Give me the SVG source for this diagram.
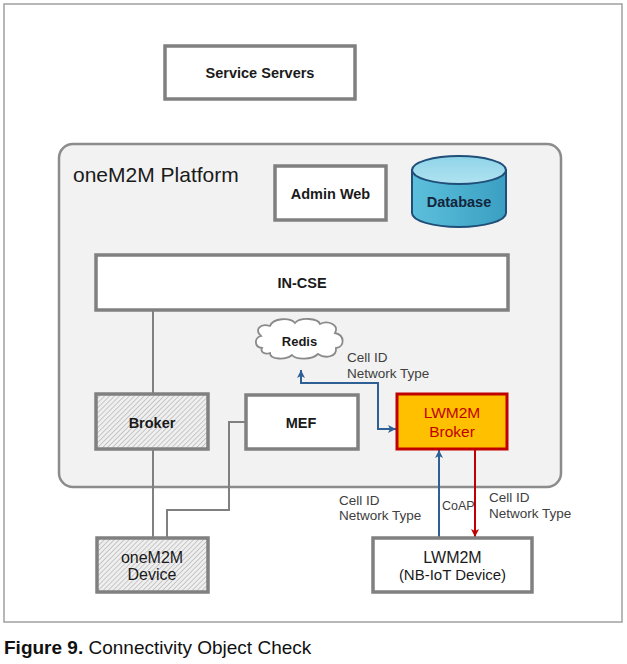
<svg xmlns="http://www.w3.org/2000/svg" width="627" height="664" viewBox="0 0 627 664">
<style>
.box{fill:#ffffff;stroke:#808080;stroke-width:3.5}
.hbox{fill:url(#hatch);stroke:#808080;stroke-width:3.5}
.lbl{font-family:"Liberation Sans",Arial,sans-serif;font-weight:bold;font-size:14.5px;fill:#1a1a1a;text-anchor:middle}
.lbl2{font-family:"Liberation Sans",Arial,sans-serif;font-size:16px;fill:#1a1a1a;text-anchor:middle}
.note{font-family:"Liberation Sans",Arial,sans-serif;font-size:13.5px;fill:#404040}
.gline{fill:none;stroke:#808080;stroke-width:2}
.bline{fill:none;stroke:#2e6096;stroke-width:2}
.rline{fill:none;stroke:#c00000;stroke-width:2}
</style>
<defs>
<pattern id="hatch" width="3.5" height="3.5" patternUnits="userSpaceOnUse" patternTransform="rotate(45)">
<rect width="3.5" height="3.5" fill="#efefef"/>
<line x1="0" y1="0" x2="0" y2="3.5" stroke="#a6a6a6" stroke-width="1.1"/>
</pattern>
<linearGradient id="dbBody" x1="0" y1="0" x2="1" y2="0">
<stop offset="0" stop-color="#5cc0dc"/>
<stop offset="1" stop-color="#3a9fc2"/>
</linearGradient>
<linearGradient id="dbTop" x1="0" y1="0" x2="0" y2="1">
<stop offset="0" stop-color="#8fd4e8"/>
<stop offset="1" stop-color="#b0e2f0"/>
</linearGradient>
<marker id="arB" viewBox="0 0 10 10" refX="10" refY="5" markerWidth="8" markerHeight="8" markerUnits="userSpaceOnUse" orient="auto-start-reverse">
<path d="M0,0 L10,5 L0,10 L2.5,5 Z" fill="#2e6096"/>
</marker>
<marker id="arR" viewBox="0 0 10 10" refX="10" refY="5" markerWidth="8" markerHeight="8" markerUnits="userSpaceOnUse" orient="auto-start-reverse">
<path d="M0,0 L10,5 L0,10 L2.5,5 Z" fill="#c00000"/>
</marker>
</defs>

<rect x="4" y="4" width="618" height="618" fill="#ffffff" stroke="#a0a0a0" stroke-width="1.5"/>

<g id="service-servers">
<rect class="box" x="165" y="46" width="190" height="53"/>
<text class="lbl" x="260" y="78">Service Servers</text>
</g>

<g id="platform">
<rect x="59" y="144" width="502" height="343" rx="14" fill="#f2f2f2" stroke="#8c8c8c" stroke-width="2.5"/>
<text x="73" y="182" font-family="'Liberation Sans',Arial,sans-serif" font-size="21" fill="#1a1a1a">oneM2M Platform</text>
</g>

<g id="connectors">
<path class="gline" d="M153,310 L153,394"/>
<path class="gline" d="M153,449 L153,538"/>
<path class="gline" d="M246,422 L229,422 L229,510 L167,510 L167,538"/>
<path class="bline" d="M301,370 L301,383 L378,383 L378,429 L396,429" marker-start="url(#arB)" marker-end="url(#arB)"/>
<path class="bline" d="M439,538 L439,450" marker-end="url(#arB)"/>
<path class="rline" d="M475,450 L475,537" marker-end="url(#arR)"/>
<text class="note" x="347" y="362">Cell ID</text>
<text class="note" x="347" y="378">Network Type</text>
<text class="note" x="339" y="505">Cell ID</text>
<text class="note" x="339" y="520">Network Type</text>
<text class="note" x="442" y="510" style="font-size:12.5px">CoAP</text>
<text class="note" x="489" y="502">Cell ID</text>
<text class="note" x="489" y="518">Network Type</text>
</g>

<g id="admin-web">
<rect class="box" x="275" y="166" width="111" height="54"/>
<text class="lbl" x="330.5" y="199">Admin Web</text>
</g>

<g id="database">
<path d="M412,170 L412,213 A47,14 0 0 0 506,213 L506,170 Z" fill="url(#dbBody)" stroke="#1f4e79" stroke-width="2"/>
<ellipse cx="459" cy="170" rx="47" ry="14" fill="url(#dbTop)" stroke="#1f4e79" stroke-width="2"/>
<text class="lbl" x="459" y="207" style="fill:#13263d">Database</text>
</g>

<g id="in-cse">
<rect class="box" x="96" y="255" width="412" height="55"/>
<text class="lbl" x="302" y="288">IN-CSE</text>
</g>

<g id="redis">
<path d="M262,348 C254,347 254,338 261,336 C254,330 260,323 270,326 C273,318 290,317 295,323 C300,317 318,318 320,324 C328,320 340,325 335,333 C345,335 345,347 336,348 C337,357 325,359 318,354 C312,360 296,360 292,355 C286,360 270,360 270,353 C265,355 260,352 262,348 Z" fill="#ffffff" stroke="#8a8a8a" stroke-width="1.8"/>
<text class="lbl" x="299.5" y="346" style="font-size:13px">Redis</text>
</g>

<g id="broker">
<rect class="hbox" x="96" y="394" width="112" height="55"/>
<text class="lbl" x="152" y="428">Broker</text>
</g>

<g id="mef">
<rect class="box" x="246" y="395" width="112" height="54"/>
<text class="lbl" x="301" y="428">MEF</text>
</g>

<g id="lwm2m-broker">
<rect x="397" y="394" width="110" height="55" fill="#ffc000" stroke="#c00000" stroke-width="3"/>
<text class="lbl2" x="452" y="418" style="fill:#c00000;font-size:15.5px">LWM2M</text>
<text class="lbl2" x="452" y="437" style="fill:#c00000;font-size:15.5px">Broker</text>
</g>

<g id="onem2m-device">
<rect class="hbox" x="97" y="538" width="111" height="54"/>
<text class="lbl2" x="152" y="563">oneM2M</text>
<text class="lbl2" x="152" y="580">Device</text>
</g>

<g id="lwm2m-device">
<rect class="box" x="373" y="538" width="159" height="54"/>
<text class="lbl2" x="452.5" y="563">LWM2M</text>
<text class="lbl2" x="452.5" y="580" style="font-size:15px">(NB-IoT Device)</text>
</g>

<text x="4" y="654" font-family="'Liberation Sans',Arial,sans-serif" font-size="19" fill="#111111"><tspan font-weight="bold">Figure 9.</tspan> Connectivity Object Check</text>
</svg>
